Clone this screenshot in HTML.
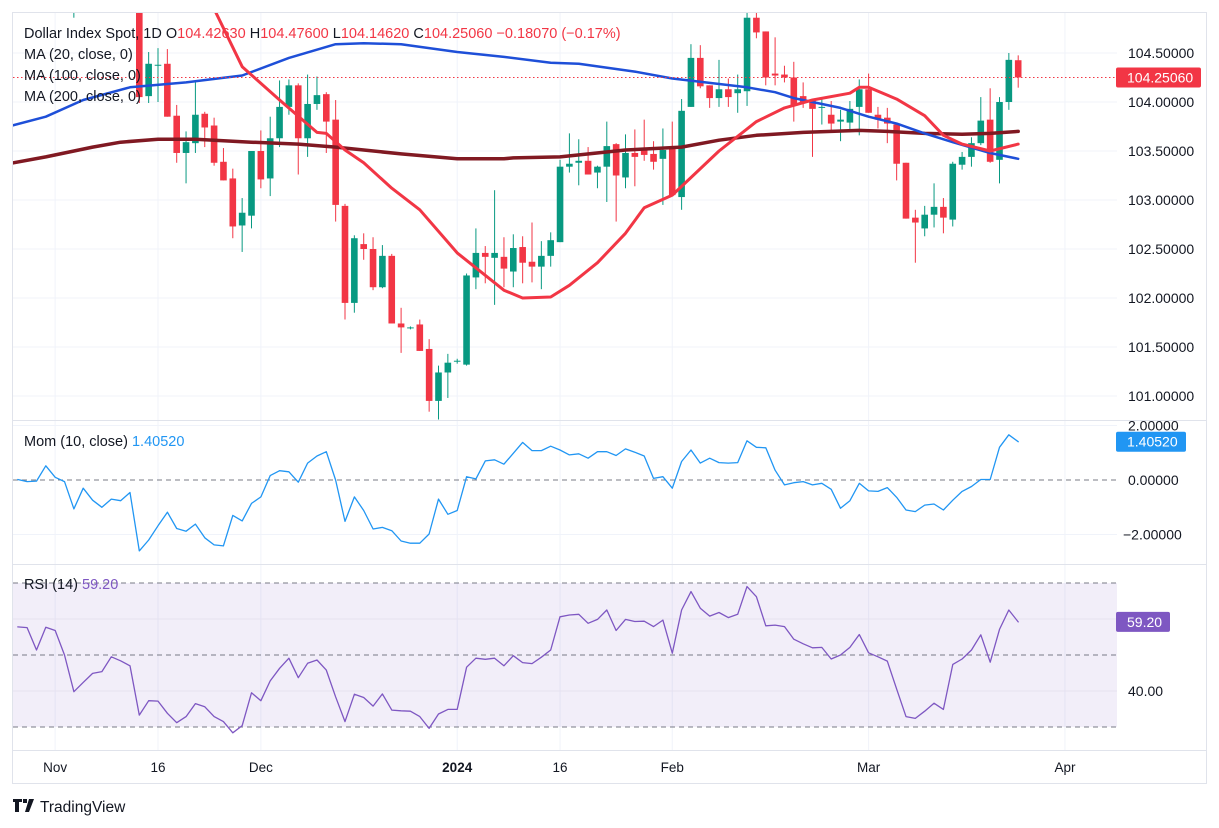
<!DOCTYPE html>
<html><head><meta charset="utf-8"><style>
html,body{margin:0;padding:0;background:#fff;width:1219px;height:828px;overflow:hidden}
svg{display:block;font-family:"Liberation Sans",sans-serif}
</style></head><body>
<svg id="chart" width="1219" height="828" viewBox="0 0 1219 828">
<defs>
<clipPath id="cp"><rect x="13" y="13" width="1104" height="407"/></clipPath>
<clipPath id="cm"><rect x="13" y="421" width="1104" height="143"/></clipPath>
<clipPath id="cr"><rect x="13" y="565" width="1104" height="185"/></clipPath>
</defs>
<rect x="12.5" y="12.5" width="1194" height="771" fill="#fff" stroke="#e0e3eb"/>
<g id="grid"></g>
<rect x="13" y="583" width="1104" height="144" fill="#7e57c2" fill-opacity="0.1"/>
<g id="guides"></g>
<g id="price" clip-path="url(#cp)"></g>
<g id="mom" clip-path="url(#cm)"></g>
<g id="rsi" clip-path="url(#cr)"></g>
<line x1="13" y1="420.5" x2="1206" y2="420.5" stroke="#e0e3eb"/>
<line x1="13" y1="564.5" x2="1206" y2="564.5" stroke="#e0e3eb"/>
<line x1="13" y1="750.5" x2="1206" y2="750.5" stroke="#e0e3eb"/>
<g id="axes" font-size="14" fill="#131722"></g>
<g font-size="14.5" xml:space="preserve">
<text x="24" y="38" fill="#131722">Dollar Index Spot, 1D  O<tspan fill="#f23645">104.42630</tspan>  H<tspan fill="#f23645">104.47600</tspan>  L<tspan fill="#f23645">104.14620</tspan>  C<tspan fill="#f23645">104.25060  −0.18070 (−0.17%)</tspan></text>
<text x="24" y="59" fill="#131722">MA (20, close, 0)</text>
<text x="24" y="80" fill="#131722">MA (100, close, 0)</text>
<text x="24" y="101" fill="#131722">MA (200, close, 0)</text>
<text x="24" y="446" fill="#131722">Mom (10, close)  <tspan fill="#2196f3">1.40520</tspan></text>
<text x="24" y="589" fill="#131722">RSI (14)  <tspan fill="#7e57c2">59.20</tspan></text>
</g>
<g>
<path d="M13 799h9v3h-3v10h-4v-10h-2z M23 799h4v4h-4z M29 799h5l-5 13h-4z" fill="#131722"/>
<text x="40" y="812" font-size="15.5" fill="#131722">TradingView</text>
</g>
</svg>
<script>
const startIdx = -13;
const opens = [105.55,105.70,105.62,105.80,105.95,105.60,105.30,105.42,105.65,105.90,106.05,105.80,105.45,
105.20,104.06,104.38,104.39,103.86,103.48,103.58,103.88,103.76,103.39,
103.22,102.74,102.84,103.50,103.22,103.63,103.95,104.17,103.63,103.98,
104.08,103.82,102.94,101.95,102.55,102.50,102.11,102.43,101.74,101.69,
101.73,101.48,100.95,101.24,101.35,101.32,102.21,102.46,102.41,102.42,
102.27,102.52,102.37,102.32,102.43,102.57,103.34,103.38,103.40,103.28,
103.34,103.57,103.23,103.48,103.51,103.47,103.42,103.52,103.03,103.95,
104.45,104.17,104.04,104.13,104.09,104.11,104.86,104.72,104.29,104.28,
104.25,104.06,104.02,103.94,103.87,103.80,103.79,103.95,104.13,103.87,
103.84,103.77,103.38,102.82,102.71,102.85,102.93,102.80,103.36,103.44,
103.58,103.82,103.41,104.00,104.4263];
const highs = [105.85,105.82,105.92,106.08,106.10,105.75,105.55,105.78,106.02,106.18,106.20,105.92,105.58,
105.40,104.51,104.55,104.54,103.97,103.70,104.20,103.90,103.84,103.53,
103.32,103.02,103.50,103.71,103.85,104.22,104.23,104.19,104.28,104.26,
104.10,104.02,102.96,102.64,102.66,102.62,102.54,102.45,101.90,101.71,
101.78,101.58,101.31,101.43,101.38,102.25,102.71,102.53,103.10,102.62,
102.65,102.63,102.77,102.58,102.67,103.41,103.68,103.62,103.54,103.35,
103.80,103.58,103.67,103.72,103.82,103.60,103.73,103.80,104.03,104.59,
104.58,104.17,104.43,104.24,104.28,104.91,104.91,104.72,104.66,104.37,
104.41,104.20,104.02,104.05,104.01,103.92,104.01,104.23,104.29,103.95,
103.94,103.77,103.38,102.90,102.94,103.17,103.02,103.39,103.49,103.64,
104.05,104.14,104.05,104.50,104.476];
const lows = [105.42,105.50,105.50,105.68,105.48,105.18,104.86,105.30,105.52,105.78,105.70,105.32,105.08,
103.99,103.99,104.00,103.85,103.38,103.17,103.48,103.54,103.35,103.20,
102.61,102.47,102.71,103.12,103.04,103.54,103.87,103.26,103.44,103.92,
103.48,102.78,101.78,101.85,102.39,102.08,102.10,101.74,101.44,101.68,
101.46,100.84,100.76,100.98,101.33,101.31,102.09,102.15,101.93,102.11,
102.11,102.15,102.16,102.09,102.32,102.57,103.28,103.15,103.26,103.12,
102.98,102.78,103.12,103.14,103.40,103.31,102.95,103.05,102.90,103.95,
104.14,103.94,103.95,103.95,103.89,103.96,104.65,104.17,104.17,104.20,
103.80,103.94,103.44,103.77,103.70,103.60,103.70,103.66,103.89,103.73,
103.58,103.20,102.81,102.36,102.63,102.72,102.66,102.73,103.31,103.34,
103.56,103.38,103.17,103.92,104.1462];
const closes = [105.70,105.62,105.80,105.95,105.60,105.30,105.42,105.65,105.90,106.05,105.80,105.45,105.20,
104.05,104.39,104.38,103.85,103.48,103.59,103.87,103.74,103.38,103.20,
102.73,102.87,103.50,103.21,103.63,103.95,104.17,103.63,103.98,104.07,
103.80,102.95,101.95,102.61,102.50,102.11,102.43,101.74,101.70,101.70,
101.46,100.95,101.24,101.34,101.36,102.23,102.46,102.42,102.46,102.30,
102.51,102.36,102.32,102.43,102.59,103.34,103.37,103.40,103.26,103.34,
103.55,103.25,103.48,103.44,103.46,103.39,103.51,103.05,103.91,104.45,
104.16,104.04,104.13,104.05,104.13,104.86,104.71,104.25,104.27,104.25,
103.96,104.00,103.93,103.95,103.78,103.82,103.93,104.13,103.89,103.82,
103.78,103.37,102.81,102.77,102.85,102.93,102.82,103.37,103.44,103.58,
103.81,103.39,104.00,104.43,104.2506];
const ma20Day = [-2,5,8,11,15,19,20,22,24,27,30,34,39,41,44,46,49,52,54,57,59,62,66,69,72,76,77,78,81,84,86,88,91,94];
const ma20Val = [105.5,105.2,104.95,104.36,104.02,103.69,103.68,103.51,103.38,103.12,102.90,102.46,102.08,102.00,102.01,102.13,102.36,102.66,102.92,103.05,103.23,103.50,103.80,103.94,104.02,104.09,104.15,104.15,104.03,103.86,103.66,103.57,103.50,103.57];
const ma100Day = [-14,-10,-6,-1,5,11,16,21,24,28,34,39,44,47,53,57,65,68,70,75,78,81,84,87,91,94];
const ma100Val = [103.75,103.85,104.02,104.15,104.20,104.27,104.45,104.59,104.60,104.59,104.51,104.46,104.40,104.39,104.31,104.24,104.15,104.10,104.04,103.94,103.85,103.78,103.68,103.59,103.48,103.42];
const ma200Day = [-14,-10,-5,-2,2,6,12,17,21,24,28,34,39,40,45,52,58,62,66,71,77,80,84,88,91,94];
const ma200Val = [103.37,103.44,103.54,103.59,103.62,103.62,103.59,103.57,103.54,103.51,103.47,103.42,103.42,103.43,103.44,103.51,103.54,103.61,103.66,103.69,103.71,103.70,103.68,103.67,103.68,103.70];
const momVals = [0.02,-0.06,-0.04,0.52,0.10,-0.06,-1.06,-0.30,-0.74,-1.00,-0.70,-0.76,-0.46,-2.60,-2.20,-1.68,-1.18,-1.78,-1.88,-1.62,-2.12,-2.38,-2.42,-1.30,-1.50,-0.86,-0.62,0.16,0.34,0.30,-0.08,0.62,0.88,1.04,0.00,-1.52,-0.62,-1.12,-1.80,-1.74,-1.86,-2.24,-2.32,-2.32,-1.98,-0.70,-1.26,-1.12,0.12,0.04,0.70,0.74,0.58,0.98,1.38,1.08,
1.08,1.24,1.10,0.92,0.96,0.80,1.04,1.04,0.90,1.14,1.02,0.88,0.06,0.12,-0.30,0.68,1.10,0.62,0.80,0.64,0.62,0.64,1.44,1.20,1.18,0.36,-0.18,-0.10,-0.06,-0.18,-0.12,-0.34,-1.04,-0.76,-0.12,-0.40,-0.42,-0.28,-0.64,-1.10,-1.16,-0.92,-0.88,-1.10,-0.74,-0.42,-0.24,0.02,0.02,1.20,1.66,1.405];
const rsiVals = [57.8,57.6,51.4,57.7,56.8,50.0,39.8,42.4,44.9,45.4,49.5,48.4,47.0,33.3,37.3,37.2,33.8,31.2,32.9,36.5,35.6,32.9,31.5,28.4,30.4,39.5,37.3,42.8,46.3,49.1,43.7,47.7,48.6,45.8,38.4,31.5,39.1,38.2,35.8,39.2,34.7,34.5,34.4,32.9,29.6,33.6,34.9,34.9,46.6,49.1,48.8,49.1,47.0,49.8,47.9,47.6,
49.4,51.4,60.6,61.1,61.3,58.8,59.9,62.5,56.8,59.9,59.3,59.4,57.9,59.7,50.5,62.5,67.6,63.0,60.8,61.8,60.4,61.3,69.0,66.2,58.1,58.3,57.9,54.4,53.1,52.0,52.1,48.9,50.0,52.1,55.7,50.6,49.5,48.3,40.5,32.9,32.4,34.4,36.6,34.9,47.4,48.9,51.4,55.6,48.0,57.1,62.5,59.2];
const priceTicks = [104.5,104.0,103.5,103.0,102.5,102.0,101.5,101.0];
const momTicks = [2,0,-2];
const rsiGuides = [70,50,30];
const rsiTicks = [60,40];
const timeLabels = ["Nov","16","Dec","2024","16","Feb","Mar","Apr"];
const timeDays = [-9,2,13,34,45,57,78,99];
const lastPrice = 104.2506, lastMom = 1.40520, lastRsi = 59.20;

const NS = "http://www.w3.org/2000/svg";
const X = d => 139.3 + d * 9.35;
const PY = p => 53 + (104.5 - p) * 98;
const MY = m => 480 - m * 27.25;
const RY = r => 655 - (r - 50) * 3.6;
function mk(tag, attrs, parent, txt) {
  const e = document.createElementNS(NS, tag);
  for (const k in attrs) e.setAttribute(k, attrs[k]);
  if (txt !== undefined) e.textContent = txt;
  parent.appendChild(e);
  return e;
}
const grid = document.getElementById('grid'), guides = document.getElementById('guides');
const price = document.getElementById('price'), mom = document.getElementById('mom'), rsi = document.getElementById('rsi'), axes = document.getElementById('axes');

timeDays.forEach((d, i) => {
  const l = mk('line', {x1: X(d), x2: X(d), y1: 13, y2: 750, stroke: '#f0f3fa'}, grid);
  
  
  const t = mk('text', {x: X(d), y: 772, 'text-anchor': 'middle', 'font-size': 13.5, 'font-weight': timeLabels[i] === '2024' ? 'bold' : 'normal'}, axes, timeLabels[i]);
  
  
});
priceTicks.forEach(p => {
  const l = mk('line', {x1: 13, x2: 1117, y1: PY(p), y2: PY(p), stroke: '#f0f3fa'}, grid);
  
  
  const t = mk('text', {x: 1128, y: PY(p) + 5}, axes, p.toFixed(5));
  
  
});
momTicks.forEach(m => {
  if (m !== 0) {
    const l = mk('line', {x1: 13, x2: 1117, y1: MY(m), y2: MY(m), stroke: '#f0f3fa'}, grid);
    
    
  }
  const t = mk('text', {x: m < 0 ? 1123 : 1128, y: MY(m) + 5}, axes, (m < 0 ? '−' : '') + Math.abs(m).toFixed(5));
  
  
});
const zl = mk('line', {x1: 13, x2: 1117, y1: MY(0), y2: MY(0), stroke: '#787b86', 'stroke-dasharray': '5 4'}, guides);


rsiTicks.forEach(r => {
  const l = mk('line', {x1: 13, x2: 1117, y1: RY(r), y2: RY(r), stroke: '#e6e1f0'}, guides);
  
  
  if (r === 40) {
    const t = mk('text', {x: 1128, y: RY(r) + 5}, axes, r.toFixed(2));
    
    
  }
});
rsiGuides.forEach(r => {
  const l = mk('line', {x1: 13, x2: 1117, y1: RY(r), y2: RY(r), stroke: '#787b86', 'stroke-dasharray': '5 4'}, guides);
  
  
});

opens.forEach((o, k) => {
  const d = startIdx + k, c = closes[k], up = c >= o, col = up ? '#089981' : '#f23645', x = X(d);
  const g = mk('g', {}, price);
  
  
  mk('line', {x1: x, x2: x, y1: PY(highs[k]), y2: PY(lows[k]), stroke: col, 'stroke-width': 1}, g);
  const top = PY(Math.max(o, c)), h = Math.max(1, PY(Math.min(o, c)) - top);
  mk('rect', {x: x - 3.3, y: top, width: 6.6, height: h, fill: col}, g);
});
function line(days, vals, yf, parent, color, w, name) {
  const pts = days.map((d, i) => X(d).toFixed(1) + ',' + yf(vals[i]).toFixed(1)).join(' ');
  const p = mk('polyline', {points: pts, fill: 'none', stroke: color, 'stroke-width': w, 'stroke-linejoin': 'round', 'stroke-linecap': 'round'}, parent);
  
  
}
line(ma200Day, ma200Val, PY, price, '#801922', 3.5, 'ma200-line');
line(ma100Day, ma100Val, PY, price, '#1e4fd8', 2.5, 'ma100-line');
line(ma20Day, ma20Val, PY, price, '#f23645', 3, 'ma20-line');
line(momVals.map((v, i) => startIdx + i), momVals, MY, mom, '#2196f3', 1.3, 'momentum-line');
line(rsiVals.map((v, i) => startIdx + i), rsiVals, RY, rsi, '#7e57c2', 1.3, 'rsi-line');

const pl = mk('line', {x1: 13, x2: 1117, y1: PY(lastPrice), y2: PY(lastPrice), stroke: '#f23645', 'stroke-dasharray': '1.5 2.5'}, price);



function badge(y, txt, col, w, name) {
  const g = mk('g', {}, axes);
  
  
  mk('rect', {x: 1116, y: y - 10, width: w, height: 20, rx: 2, fill: col}, g);
  mk('text', {x: 1127, y: y + 5, fill: '#fff', 'font-size': 14}, g, txt);
}
badge(PY(lastPrice), lastPrice.toFixed(5), '#f23645', 85, 'last-price-label');
badge(MY(lastMom), lastMom.toFixed(5), '#2196f3', 70, 'mom-value-label');
badge(RY(lastRsi), lastRsi.toFixed(2), '#7e57c2', 54, 'rsi-value-label');
</script>
</body></html>
